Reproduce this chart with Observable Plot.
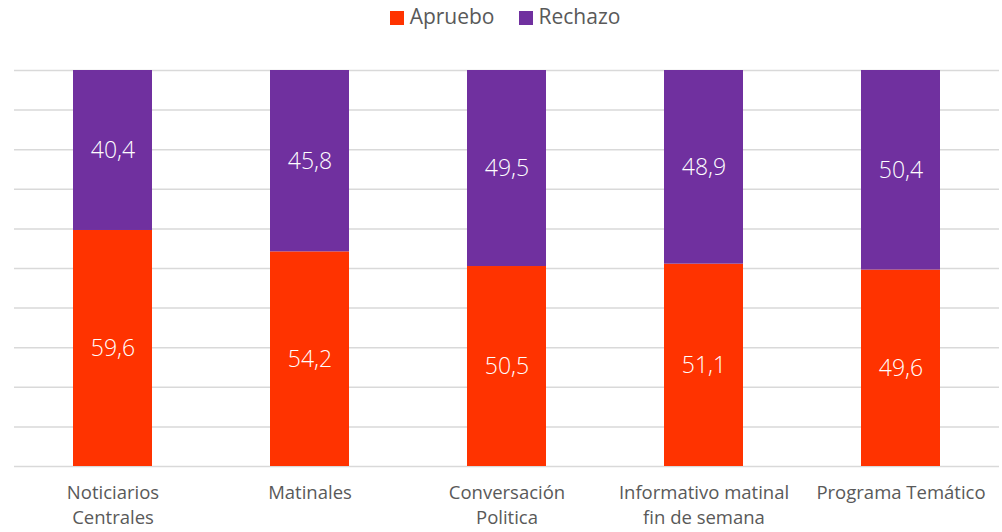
<!DOCTYPE html>
<html><head><meta charset="utf-8">
<script src="https://cdn.jsdelivr.net/npm/d3@7"></script>
<script src="https://cdn.jsdelivr.net/npm/@observablehq/plot@0.6"></script>
<style>
html,body{margin:0;padding:0;background:#fff;overflow:hidden;width:1002px;height:532px;}
#legend{height:40px;display:flex;justify-content:center;align-items:center;gap:24px;font-family:"Open Sans",sans-serif;font-weight:400;font-size:21px;color:#595959;padding-left:8px;box-sizing:border-box;padding-bottom:8px}
#legend span.sw{display:inline-block;width:14px;height:14px;margin-right:6px;vertical-align:-1px}
</style></head><body>
<div id="legend"></div>
<div id="chart"></div>
<script>
const categories = ["Noticiarios\nCentrales","Matinales","Conversación\nPolitica","Informativo matinal\nfin de semana","Programa Temático"];
const apruebo = [59.6, 54.2, 50.5, 51.1, 49.6];
const rechazo = [40.4, 45.8, 49.5, 48.9, 50.4];
const seriesNames = ["Apruebo","Rechazo"];
const seriesColors = ["#FF3300","#70309F"];

const legend = document.getElementById("legend");
seriesNames.forEach((s,i)=>{
  const d = document.createElement("div");
  d.innerHTML = `<span class="sw" style="background:${seriesColors[i]}"></span>${s}`;
  legend.appendChild(d);
});

const data = [];
categories.forEach((c,i)=>{
  data.push({cat:c, serie:"Apruebo", value:apruebo[i]});
  data.push({cat:c, serie:"Rechazo", value:rechazo[i]});
});
const fmt = v => v.toFixed(1).replace(".", ",");

const chart = Plot.plot({
  width: 1002, height: 492,
  marginLeft: 14, marginRight: 3, marginTop: 30, marginBottom: 66,
  style: {fontFamily: "'Open Sans', sans-serif", background: "#fff"},
  x: {domain: categories, paddingInner: 0.6, paddingOuter: 0.3, label: null},
  y: {domain: [0,100], label: null, axis: null},
  color: {domain: seriesNames, range: seriesColors},
  marks: [
    Plot.gridY(d3.range(0,101,10), {stroke: "#d9d9d9", strokeOpacity: 1, strokeWidth: 1.5}),
    Plot.barY(data, {x: "cat", y: "value", fill: "serie", order: seriesNames}),
    Plot.text(data, Plot.stackY({x: "cat", y: "value", z: "serie", order: seriesNames, text: d => fmt(d.value), fill: "white", fontSize: 23, fontWeight: 300})),
    Plot.axisX({tickSize: 0, tickPadding: 15, fontSize: 18.5, lineHeight: 1.35, fill: "#595959", label: null})
  ]
});
document.getElementById("chart").appendChild(chart);
</script></body></html>
